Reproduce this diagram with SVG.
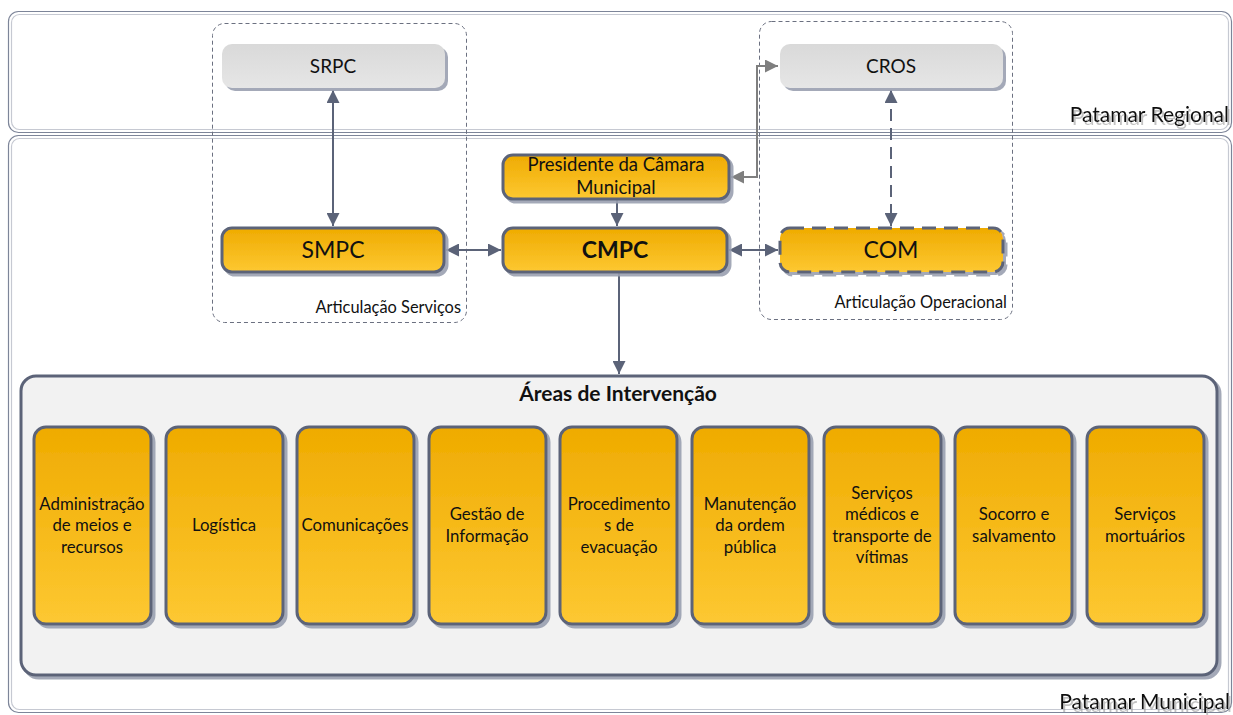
<svg xmlns="http://www.w3.org/2000/svg" width="1233" height="715" viewBox="0 0 1233 715">
<style>
text{font-family:Lato,"Liberation Sans",sans-serif;fill:#111;}
.band-o{fill:none;stroke:#7d8599;stroke-width:1.2;}
.band-i{fill:none;stroke:#c6c9d2;stroke-width:1.2;}
.grp{fill:none;stroke:#6b7080;stroke-width:1;stroke-dasharray:4 3;}
.gray{fill:url(#gg);filter:url(#sh);}
.org{fill:url(#og);stroke:#5b6378;stroke-width:3;filter:url(#sh);}
.orgd{fill:url(#og);stroke:#5b6378;stroke-width:3;stroke-dasharray:14 8;filter:url(#sh);}
.area{fill:url(#og);stroke:#5b6378;stroke-width:3;filter:url(#sh);}
.panel{fill:#f2f2f2;stroke:#5b6378;stroke-width:3;filter:url(#sh);}
.conn{fill:none;stroke:#5b6378;stroke-width:2;}
.connd{fill:none;stroke:#5b6378;stroke-width:2;stroke-dasharray:12 7;}
.conng{fill:none;stroke:#7f7f7f;stroke-width:2;}
.lbl{font-size:16.8px;text-anchor:middle;}
.pres{font-size:18.5px;text-anchor:middle;}
.big{font-size:23px;text-anchor:middle;}
.mid{font-size:19px;text-anchor:middle;}
.note{font-size:16.4px;text-anchor:end;}
.pat{font-size:21px;text-anchor:end;filter:url(#ts);}
</style>
<defs>
<linearGradient id="og" x1="0" y1="0" x2="0" y2="1">
<stop offset="0" stop-color="#efab00"/>
<stop offset="1" stop-color="#fdc832"/>
</linearGradient>
<linearGradient id="gg" x1="0" y1="0" x2="0" y2="1">
<stop offset="0" stop-color="#d9d9d9"/>
<stop offset="1" stop-color="#e6e6e6"/>
</linearGradient>
<filter id="sh" x="-10%" y="-10%" width="130%" height="130%">
<feDropShadow dx="3" dy="3" stdDeviation="0.6" flood-color="#9aa0b0" flood-opacity="0.9"/>
</filter>
<filter id="ts" x="-10%" y="-30%" width="130%" height="180%">
<feDropShadow dx="2" dy="3" stdDeviation="0.4" flood-color="#9a9a9a" flood-opacity="0.6"/>
</filter>
<marker id="ah" viewBox="0 0 10 10" refX="10" refY="5" markerWidth="6.5" markerHeight="6.5" orient="auto-start-reverse" markerUnits="strokeWidth">
<path d="M0,0 L10,5 L0,10 z" fill="#5b6378"/>
</marker>
<marker id="ahg" viewBox="0 0 10 10" refX="10" refY="5" markerWidth="6.5" markerHeight="6.5" orient="auto-start-reverse" markerUnits="strokeWidth">
<path d="M0,0 L10,5 L0,10 z" fill="#7f7f7f"/>
</marker>
</defs>
<rect width="1233" height="715" fill="#fff"/>

<g id="bands">
<rect class="band-o" x="8.5" y="11.5" width="1223" height="121" rx="10"/>
<rect class="band-i" x="11.5" y="14.5" width="1217" height="115" rx="8"/>
<rect class="band-o" x="8.5" y="135.5" width="1223" height="577" rx="10"/>
<rect class="band-i" x="11.5" y="138.5" width="1217" height="571" rx="8"/>
<text class="pat" x="1229" y="122">Patamar Regional</text>
<text class="pat" x="1230" y="709">Patamar Municipal</text>
</g>

<g id="grp-servicos">
<rect class="grp" x="212.5" y="23.5" width="254" height="299" rx="12"/>
<text class="note" x="461" y="313">Articulação Serviços</text>
</g>
<g id="grp-operacional">
<rect class="grp" x="759.5" y="21.5" width="253" height="298" rx="12"/>
<text class="note" x="1007" y="308">Articulação Operacional</text>
</g>

<g id="connectors">
<line class="conn" x1="333" y1="90" x2="333" y2="226" marker-start="url(#ah)" marker-end="url(#ah)"/>
<line class="conn" x1="446" y1="250" x2="501" y2="250" marker-start="url(#ah)" marker-end="url(#ah)"/>
<line class="conn" x1="729" y1="250" x2="778" y2="250" marker-start="url(#ah)" marker-end="url(#ah)"/>
<line class="conn" x1="617" y1="199" x2="617" y2="226" marker-end="url(#ah)"/>
<line class="conn" x1="619" y1="273" x2="619" y2="374" marker-end="url(#ah)"/>
<line class="connd" x1="891" y1="90" x2="891" y2="226" marker-start="url(#ah)" marker-end="url(#ah)"/>
<polyline class="conng" points="731,177 757,177 757,66 778,66" marker-start="url(#ahg)" marker-end="url(#ahg)"/>
</g>

<g id="node-srpc">
<rect class="gray" x="222" y="44" width="223" height="44" rx="10"/>
<text class="mid" x="333" y="73">SRPC</text>
</g>
<g id="node-cros">
<rect class="gray" x="780" y="44" width="223" height="44" rx="10"/>
<text class="mid" x="891" y="73">CROS</text>
</g>
<g id="node-presidente">
<rect class="org" x="503" y="155" width="226" height="44" rx="10"/>
<text class="pres" x="616" y="171">Presidente da Câmara</text>
<text class="pres" x="616" y="194">Municipal</text>
</g>
<g id="node-smpc">
<rect class="org" x="222" y="228" width="222" height="44" rx="10"/>
<text class="big" x="333" y="258">SMPC</text>
</g>
<g id="node-cmpc">
<rect class="org" x="503" y="228" width="224" height="44" rx="10"/>
<text class="big" x="615" y="258" font-weight="bold">CMPC</text>
</g>
<g id="node-com">
<rect class="orgd" x="780" y="228" width="223" height="44" rx="10"/>
<text class="big" x="891" y="258">COM</text>
</g>

<g id="node-areas">
<rect class="panel" x="21" y="376" width="1196" height="299" rx="15"/>
<text x="618" y="401" font-size="21" font-weight="bold" text-anchor="middle">Áreas de Intervenção</text>
</g>

<g id="area-1">
<rect class="area" x="34" y="427" width="117" height="197" rx="12"/>
<text class="lbl" x="92" y="510">Administração</text>
<text class="lbl" x="92" y="531">de meios e</text>
<text class="lbl" x="92" y="553">recursos</text>
</g>
<g id="area-2">
<rect class="area" x="166" y="427" width="117" height="197" rx="12"/>
<text class="lbl" x="224" y="531">Logística</text>
</g>
<g id="area-3">
<rect class="area" x="297" y="427" width="117" height="197" rx="12"/>
<text class="lbl" x="355" y="531">Comunicações</text>
</g>
<g id="area-4">
<rect class="area" x="429" y="427" width="117" height="197" rx="12"/>
<text class="lbl" x="487" y="520">Gestão de</text>
<text class="lbl" x="487" y="542">Informação</text>
</g>
<g id="area-5">
<rect class="area" x="560" y="427" width="117" height="197" rx="12"/>
<text class="lbl" x="619" y="510">Procedimento</text>
<text class="lbl" x="619" y="531">s de</text>
<text class="lbl" x="619" y="553">evacuação</text>
</g>
<g id="area-6">
<rect class="area" x="692" y="427" width="117" height="197" rx="12"/>
<text class="lbl" x="750" y="510">Manutenção</text>
<text class="lbl" x="750" y="531">da ordem</text>
<text class="lbl" x="750" y="553">pública</text>
</g>
<g id="area-7">
<rect class="area" x="824" y="427" width="117" height="197" rx="12"/>
<text class="lbl" x="882" y="499">Serviços</text>
<text class="lbl" x="882" y="520">médicos e</text>
<text class="lbl" x="882" y="542">transporte de</text>
<text class="lbl" x="882" y="563">vítimas</text>
</g>
<g id="area-8">
<rect class="area" x="955" y="427" width="117" height="197" rx="12"/>
<text class="lbl" x="1014" y="520">Socorro e</text>
<text class="lbl" x="1014" y="542">salvamento</text>
</g>
<g id="area-9">
<rect class="area" x="1087" y="427" width="117" height="197" rx="12"/>
<text class="lbl" x="1145" y="520">Serviços</text>
<text class="lbl" x="1145" y="542">mortuários</text>
</g>
</svg>
